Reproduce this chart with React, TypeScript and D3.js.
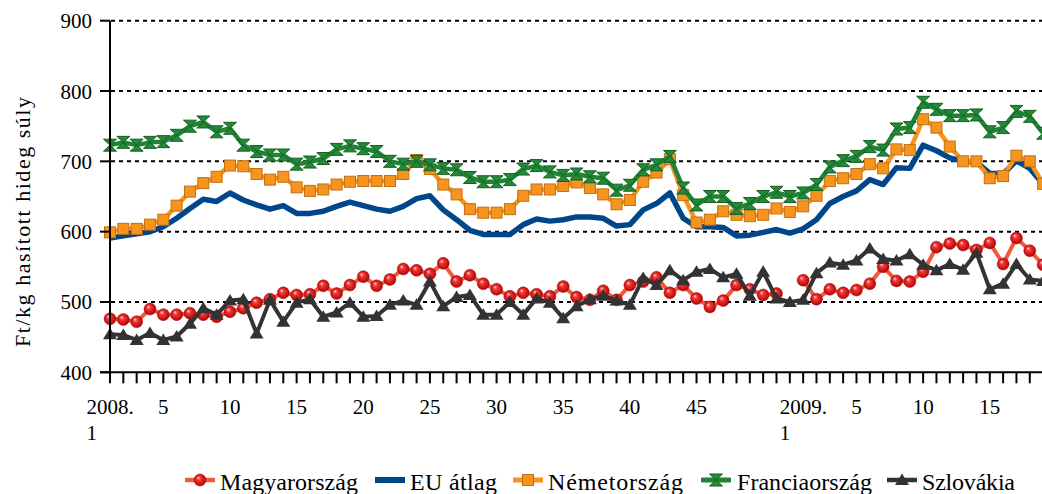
import React from "react";
import * as d3 from "d3";

// heti adatok: 2008. 1. hét ... 2009. 19. hét (Ft/kg)
const magyarorszag = [476, 475, 472, 490, 482, 482, 484, 482, 479, 486, 491, 499, 504, 513, 510, 511, 523, 512, 524, 536, 523, 532, 547, 545, 540, 555, 529, 538, 526, 518, 508, 513, 511, 508, 522, 507, 503, 516, 503, 524, 529, 535, 513, 524, 505, 493, 502, 524, 518, 510, 512, null, 531, 504, 518, 513, 517, 526, 550, 530, 529, 543, 578, 583, 581, 574, 584, 554, 591, 573, 553];
const euAtlag = [591, 594, 597, 600, 607, 619, 633, 646, 643, 655, 645, 638, 632, 637, 626, 626, 629, 636, 642, 637, 632, 629, 636, 647, 651, 631, 617, 602, 596, 596, 596, 610, 618, 615, 617, 621, 621, 619, 608, 610, 631, 640, 655, 619, 607, 607, 606, 594, 595, 599, 603, 598, 604, 617, 640, 650, 658, 674, 667, 691, 690, 723, 715, 705, 700, 699, 683, 682, 701, 690, 668];
const nemetorszag = [599, 604, 604, 610, 617, 637, 657, 669, 678, 694, 693, 682, 674, 678, 663, 658, 660, 667, 671, 672, 672, 672, 682, 702, 689, 667, 653, 632, 627, 627, 632, 651, 660, 660, 665, 670, 662, 653, 639, 645, 671, 684, 703, 652, 613, 617, 629, 624, 622, 624, 633, 628, 636, 651, 672, 676, 682, 696, 690, 717, 716, 760, 748, 721, 700, 700, 676, 679, 708, 700, 668];
const franciaorszag = [723, 727, 723, 727, 728, 737, 750, 756, 742, 747, 723, 714, 709, 709, 696, 699, 704, 717, 722, 718, 714, 700, 696, 700, 695, 690, 688, 677, 671, 671, 674, 689, 694, 685, 680, 682, 678, 676, 659, 666, 688, 695, 707, 662, 638, 650, 650, 633, 640, 650, 656, 650, 655, 667, 692, 701, 707, 721, 716, 746, 748, 784, 774, 765, 765, 766, 742, 748, 771, 764, 740];
const szlovakia = [454, 453, 446, 456, 446, 451, 469, 491, 482, 502, 504, 455, 503, 472, 499, 504, 479, 485, 499, 479, 480, 496, 502, 496, 529, 494, 507, 510, 482, 482, 500, 482, 505, 499, 477, 494, 504, 509, 502, 496, 534, 524, 545, 531, 543, 547, 535, 540, 509, 543, 505, 500, 503, 541, 556, 553, 559, 576, 561, 559, 568, 553, 545, 554, 546, 570, 518, 526, 554, 532, 530];

// feliratozott hetek (index a sorozatban)
const labelIndex = [0, 4, 9, 14, 19, 24, 29, 34, 39, 44, 52, 56, 61, 66];
const labelText = ["2008.\n1", "5", "10", "15", "20", "25", "30", "35", "40", "45", "2009.\n1", "5", "10", "15"];
const yTicks = [400, 500, 600, 700, 800, 900];

const W = 1042;
const H = 494;
const FONT = '"Liberation Serif", "Times New Roman", Times, serif';

const x = d3.scaleLinear().domain([0, 70]).range([110, 110 + 70 * 13.33]);
const y = d3.scaleLinear().domain([400, 900]).range([372.3, 20.7]);

const series = [
  { name: "Magyarország", values: magyarorszag, color: "#ef5a3a", width: 4, marker: "ball" },
  { name: "EU átlag", values: euAtlag, color: "#00468a", width: 5.5, marker: "none" },
  { name: "Németország", values: nemetorszag, color: "#f7941d", width: 4.5, marker: "square" },
  { name: "Franciaország", values: franciaorszag, color: "#1f8433", width: 4.5, marker: "hourglass" },
  { name: "Szlovákia", values: szlovakia, color: "#333333", width: 4, marker: "triangle" },
];

const legendPos = [
  { mx: 200, tx: 220, len: 138 },
  { mx: 390, tx: 410, len: 87 },
  { mx: 528, tx: 548, len: 135 },
  { mx: 716, tx: 737, len: 135 },
  { mx: 902, tx: 922, len: 93 },
];

function Marker({ type, cx, cy }) {
  if (type === "ball")
    return <circle cx={cx} cy={cy} r={6} fill="url(#redBall)" stroke="#b01010" strokeWidth={0.5} />;
  if (type === "square")
    return <rect x={cx - 5.5} y={cy - 5.5} width={11} height={11} fill="#f7941d" stroke="#c46f12" strokeWidth={1} />;
  if (type === "hourglass")
    return (
      <path
        transform={`translate(${cx},${cy})`}
        d="M-6.5,-6 L6.5,-6 L0,0 Z M-6.5,6 L6.5,6 L0,0 Z"
        fill="#24893a"
        stroke="#14621f"
        strokeWidth={1}
        strokeLinejoin="round"
      />
    );
  if (type === "triangle")
    return <path transform={`translate(${cx},${cy})`} d="M0,-6.5 L7,5 L-7,5 Z" fill="#333333" />;
  return null;
}

export default function App() {
  const line = d3
    .line<number | null>()
    .defined((d) => d != null)
    .x((_, i) => x(i))
    .y((d) => y(d as number));

  return (
    <svg
      width={W}
      height={H}
      style={{ position: "absolute", left: 0, top: 0, display: "block", background: "#fff", fontFamily: FONT }}
    >
      <defs>
        <radialGradient id="redBall" cx="0.5" cy="0.5" r="0.55" fx="0.35" fy="0.3">
          <stop offset="0%" stopColor="#ffd6d6" />
          <stop offset="30%" stopColor="#f03a3a" />
          <stop offset="80%" stopColor="#c40d0d" />
          <stop offset="100%" stopColor="#8a0000" />
        </radialGradient>
        <clipPath id="plotClip">
          <rect x={100} y={0} width={W - 100} height={380} />
        </clipPath>
      </defs>

      {/* rácsvonalak */}
      {yTicks.slice(1).map((t) => (
        <line key={t} x1={111} x2={W} y1={y(t)} y2={y(t)} stroke="#000" strokeWidth={2} strokeDasharray="4,4" />
      ))}

      {/* sorozatok */}
      <g clipPath="url(#plotClip)">
        {series.map((s) => (
          <g key={s.name}>
            <path d={line(s.values) || ""} fill="none" stroke={s.color} strokeWidth={s.width} strokeLinejoin="round" />
            {s.values.map((v, i) =>
              v == null ? null : <Marker key={i} type={s.marker} cx={x(i)} cy={y(v)} />
            )}
          </g>
        ))}
      </g>

      {/* tengelyek */}
      <line x1={110} x2={110} y1={y(900)} y2={y(400)} stroke="#000" strokeWidth={2} />
      <line x1={100} x2={W} y1={y(400)} y2={y(400)} stroke="#000" strokeWidth={2} />
      {yTicks.map((t) => (
        <g key={t}>
          <line x1={100} x2={110} y1={y(t)} y2={y(t)} stroke="#000" strokeWidth={2} />
          <text x={92} y={y(t) + 7.5} textAnchor="end" fontSize={21} fill="#000">
            {t}
          </text>
        </g>
      ))}
      {magyarorszag.map((_, i) => (
        <line key={i} x1={x(i)} x2={x(i)} y1={y(400)} y2={y(400) + 11} stroke="#000" strokeWidth={2} />
      ))}
      {labelIndex.map((idx, k) => {
        const lines = labelText[k].split("\n");
        return lines.length > 1 ? (
          <text key={k} x={x(idx) - 23.5} y={413.5} fontSize={21} fill="#000">
            <tspan x={x(idx) - 23.5}>{lines[0]}</tspan>
            <tspan x={x(idx) - 23.5} dy={26.5}>{lines[1]}</tspan>
          </text>
        ) : (
          <text key={k} x={x(idx)} y={413.5} textAnchor="middle" fontSize={21} fill="#000">
            {lines[0]}
          </text>
        );
      })}

      {/* tengelycím */}
      <text
        transform="translate(30,222) rotate(-90)"
        textAnchor="middle"
        fontSize={22}
        fill="#000"
        textLength={250}
        lengthAdjust="spacing"
      >
        Ft/kg hasított hideg súly
      </text>

      {/* jelmagyarázat */}
      {series.map((s, k) => {
        const p = legendPos[k];
        return (
          <g key={s.name}>
            <line x1={p.mx - 15} x2={p.mx + 15} y1={480} y2={480} stroke={s.color} strokeWidth={s.width + 0.5} />
            <Marker type={s.marker} cx={p.mx} cy={480} />
            <text x={p.tx} y={490} fontSize={24} fill="#000" textLength={p.len} lengthAdjust="spacing">
              {s.name}
            </text>
          </g>
        );
      })}
    </svg>
  );
}
